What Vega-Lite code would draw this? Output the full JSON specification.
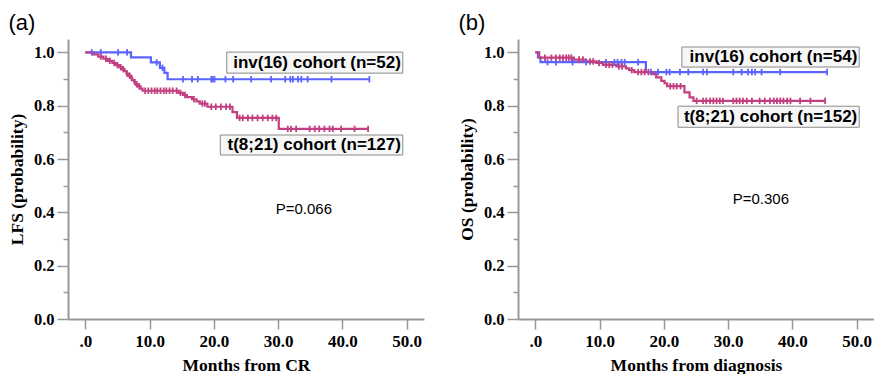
{
  "$schema": "https://vega.github.io/schema/vega-lite/v6.json",
  "padding": {"left": 8, "top": 12, "right": 0, "bottom": 0},
  "spacing": 34,
  "datasets": {
    "curves": [
      {"panel":"a","group":"inv(16)","t":0,"s":1},{"panel":"a","group":"inv(16)","t":7.1,"s":0.981},{"panel":"a","group":"inv(16)","t":10.2,"s":0.962},{"panel":"a","group":"inv(16)","t":11.6,"s":0.942},{"panel":"a","group":"inv(16)","t":12.3,"s":0.923},{"panel":"a","group":"inv(16)","t":12.8,"s":0.899},{"panel":"a","group":"inv(16)","t":44.2,"s":0.899},
      {"panel":"a","group":"t(8;21)","t":0,"s":1},{"panel":"a","group":"t(8;21)","t":1.2,"s":0.992},{"panel":"a","group":"t(8;21)","t":2.0,"s":0.984},{"panel":"a","group":"t(8;21)","t":2.8,"s":0.976},{"panel":"a","group":"t(8;21)","t":3.5,"s":0.968},{"panel":"a","group":"t(8;21)","t":4.2,"s":0.96},{"panel":"a","group":"t(8;21)","t":4.8,"s":0.952},{"panel":"a","group":"t(8;21)","t":5.3,"s":0.944},{"panel":"a","group":"t(8;21)","t":5.7,"s":0.937},{"panel":"a","group":"t(8;21)","t":6.1,"s":0.929},{"panel":"a","group":"t(8;21)","t":6.4,"s":0.92},{"panel":"a","group":"t(8;21)","t":6.7,"s":0.912},{"panel":"a","group":"t(8;21)","t":7.0,"s":0.904},{"panel":"a","group":"t(8;21)","t":7.3,"s":0.896},{"panel":"a","group":"t(8;21)","t":7.6,"s":0.888},{"panel":"a","group":"t(8;21)","t":7.9,"s":0.88},{"panel":"a","group":"t(8;21)","t":8.2,"s":0.872},{"panel":"a","group":"t(8;21)","t":8.6,"s":0.864},{"panel":"a","group":"t(8;21)","t":8.9,"s":0.856},{"panel":"a","group":"t(8;21)","t":14.5,"s":0.848},{"panel":"a","group":"t(8;21)","t":15.2,"s":0.84},{"panel":"a","group":"t(8;21)","t":15.8,"s":0.832},{"panel":"a","group":"t(8;21)","t":16.6,"s":0.824},{"panel":"a","group":"t(8;21)","t":17.3,"s":0.816},{"panel":"a","group":"t(8;21)","t":17.8,"s":0.808},{"panel":"a","group":"t(8;21)","t":19.0,"s":0.796},{"panel":"a","group":"t(8;21)","t":22.9,"s":0.776},{"panel":"a","group":"t(8;21)","t":23.6,"s":0.754},{"panel":"a","group":"t(8;21)","t":30.1,"s":0.713},{"panel":"a","group":"t(8;21)","t":44.1,"s":0.713},
      {"panel":"b","group":"inv(16)","t":0,"s":1},{"panel":"b","group":"inv(16)","t":0.4,"s":0.981},{"panel":"b","group":"inv(16)","t":0.8,"s":0.963},{"panel":"b","group":"inv(16)","t":17.2,"s":0.926},{"panel":"b","group":"inv(16)","t":45.4,"s":0.926},
      {"panel":"b","group":"t(8;21)","t":0,"s":1},{"panel":"b","group":"t(8;21)","t":0.6,"s":0.98},{"panel":"b","group":"t(8;21)","t":6.0,"s":0.973},{"panel":"b","group":"t(8;21)","t":7.9,"s":0.966},{"panel":"b","group":"t(8;21)","t":9.5,"s":0.96},{"panel":"b","group":"t(8;21)","t":10.5,"s":0.953},{"panel":"b","group":"t(8;21)","t":12.6,"s":0.947},{"panel":"b","group":"t(8;21)","t":14.1,"s":0.94},{"panel":"b","group":"t(8;21)","t":14.6,"s":0.933},{"panel":"b","group":"t(8;21)","t":15.4,"s":0.926},{"panel":"b","group":"t(8;21)","t":18.3,"s":0.918},{"panel":"b","group":"t(8;21)","t":18.8,"s":0.906},{"panel":"b","group":"t(8;21)","t":19.6,"s":0.893},{"panel":"b","group":"t(8;21)","t":20.1,"s":0.884},{"panel":"b","group":"t(8;21)","t":20.5,"s":0.873},{"panel":"b","group":"t(8;21)","t":23.2,"s":0.85},{"panel":"b","group":"t(8;21)","t":24.0,"s":0.831},{"panel":"b","group":"t(8;21)","t":24.6,"s":0.818},{"panel":"b","group":"t(8;21)","t":45.1,"s":0.818}
    ],
    "censor": [
      {"panel":"a","group":"inv(16)","t":1.0,"s":1},{"panel":"a","group":"inv(16)","t":2.4,"s":1},{"panel":"a","group":"inv(16)","t":5.1,"s":1},{"panel":"a","group":"inv(16)","t":6.5,"s":1},{"panel":"a","group":"inv(16)","t":11.1,"s":0.962},{"panel":"a","group":"inv(16)","t":12.0,"s":0.942},
      {"panel":"a","group":"inv(16)","t":15.2,"s":0.899},{"panel":"a","group":"inv(16)","t":16.6,"s":0.899},{"panel":"a","group":"inv(16)","t":17.5,"s":0.899},{"panel":"a","group":"inv(16)","t":19.6,"s":0.899},{"panel":"a","group":"inv(16)","t":19.8,"s":0.899},{"panel":"a","group":"inv(16)","t":20.1,"s":0.899},{"panel":"a","group":"inv(16)","t":21.8,"s":0.899},{"panel":"a","group":"inv(16)","t":23.0,"s":0.899},{"panel":"a","group":"inv(16)","t":25.8,"s":0.899},{"panel":"a","group":"inv(16)","t":28.9,"s":0.899},{"panel":"a","group":"inv(16)","t":31.1,"s":0.899},{"panel":"a","group":"inv(16)","t":31.9,"s":0.899},{"panel":"a","group":"inv(16)","t":32.3,"s":0.899},{"panel":"a","group":"inv(16)","t":33.1,"s":0.899},{"panel":"a","group":"inv(16)","t":33.6,"s":0.899},{"panel":"a","group":"inv(16)","t":34.6,"s":0.899},{"panel":"a","group":"inv(16)","t":38.3,"s":0.899},{"panel":"a","group":"inv(16)","t":44.2,"s":0.899},
      {"panel":"a","group":"t(8;21)","t":2.4,"s":0.984},{"panel":"a","group":"t(8;21)","t":3.2,"s":0.976},{"panel":"a","group":"t(8;21)","t":3.8,"s":0.968},{"panel":"a","group":"t(8;21)","t":4.5,"s":0.96},{"panel":"a","group":"t(8;21)","t":5.0,"s":0.952},{"panel":"a","group":"t(8;21)","t":5.5,"s":0.944},{"panel":"a","group":"t(8;21)","t":5.9,"s":0.937},{"panel":"a","group":"t(8;21)","t":6.5,"s":0.92},{"panel":"a","group":"t(8;21)","t":6.9,"s":0.912},{"panel":"a","group":"t(8;21)","t":7.2,"s":0.904},{"panel":"a","group":"t(8;21)","t":7.7,"s":0.888},{"panel":"a","group":"t(8;21)","t":8.0,"s":0.88},{"panel":"a","group":"t(8;21)","t":8.4,"s":0.872},
      {"panel":"a","group":"t(8;21)","t":9.3,"s":0.856},{"panel":"a","group":"t(8;21)","t":9.8,"s":0.856},{"panel":"a","group":"t(8;21)","t":10.3,"s":0.856},{"panel":"a","group":"t(8;21)","t":10.8,"s":0.856},{"panel":"a","group":"t(8;21)","t":11.2,"s":0.856},{"panel":"a","group":"t(8;21)","t":11.7,"s":0.856},{"panel":"a","group":"t(8;21)","t":12.2,"s":0.856},{"panel":"a","group":"t(8;21)","t":12.6,"s":0.856},{"panel":"a","group":"t(8;21)","t":13.1,"s":0.856},{"panel":"a","group":"t(8;21)","t":13.6,"s":0.856},{"panel":"a","group":"t(8;21)","t":14.2,"s":0.856},{"panel":"a","group":"t(8;21)","t":14.8,"s":0.848},{"panel":"a","group":"t(8;21)","t":15.5,"s":0.84},{"panel":"a","group":"t(8;21)","t":16.9,"s":0.824},{"panel":"a","group":"t(8;21)","t":18.2,"s":0.808},{"panel":"a","group":"t(8;21)","t":18.6,"s":0.808},
      {"panel":"a","group":"t(8;21)","t":19.6,"s":0.796},{"panel":"a","group":"t(8;21)","t":20.3,"s":0.796},{"panel":"a","group":"t(8;21)","t":21.1,"s":0.796},{"panel":"a","group":"t(8;21)","t":21.9,"s":0.796},{"panel":"a","group":"t(8;21)","t":22.5,"s":0.796},
      {"panel":"a","group":"t(8;21)","t":24.0,"s":0.754},{"panel":"a","group":"t(8;21)","t":24.5,"s":0.754},{"panel":"a","group":"t(8;21)","t":25.3,"s":0.754},{"panel":"a","group":"t(8;21)","t":26.0,"s":0.754},{"panel":"a","group":"t(8;21)","t":26.8,"s":0.754},{"panel":"a","group":"t(8;21)","t":27.6,"s":0.754},{"panel":"a","group":"t(8;21)","t":28.4,"s":0.754},{"panel":"a","group":"t(8;21)","t":29.1,"s":0.754},{"panel":"a","group":"t(8;21)","t":29.7,"s":0.754},
      {"panel":"a","group":"t(8;21)","t":31.5,"s":0.713},{"panel":"a","group":"t(8;21)","t":32.0,"s":0.713},{"panel":"a","group":"t(8;21)","t":32.8,"s":0.713},{"panel":"a","group":"t(8;21)","t":34.9,"s":0.713},{"panel":"a","group":"t(8;21)","t":35.7,"s":0.713},{"panel":"a","group":"t(8;21)","t":36.4,"s":0.713},{"panel":"a","group":"t(8;21)","t":37.2,"s":0.713},{"panel":"a","group":"t(8;21)","t":38.0,"s":0.713},{"panel":"a","group":"t(8;21)","t":38.5,"s":0.713},{"panel":"a","group":"t(8;21)","t":39.8,"s":0.713},{"panel":"a","group":"t(8;21)","t":41.9,"s":0.713},{"panel":"a","group":"t(8;21)","t":44.0,"s":0.713},
      {"panel":"b","group":"inv(16)","t":1.9,"s":0.963},{"panel":"b","group":"inv(16)","t":3.2,"s":0.963},{"panel":"b","group":"inv(16)","t":5.8,"s":0.963},{"panel":"b","group":"inv(16)","t":7.9,"s":0.963},{"panel":"b","group":"inv(16)","t":11.0,"s":0.963},{"panel":"b","group":"inv(16)","t":12.3,"s":0.963},{"panel":"b","group":"inv(16)","t":12.8,"s":0.963},{"panel":"b","group":"inv(16)","t":13.4,"s":0.963},{"panel":"b","group":"inv(16)","t":13.9,"s":0.963},{"panel":"b","group":"inv(16)","t":16.0,"s":0.963},
      {"panel":"b","group":"inv(16)","t":18.0,"s":0.926},{"panel":"b","group":"inv(16)","t":19.1,"s":0.926},{"panel":"b","group":"inv(16)","t":20.4,"s":0.926},{"panel":"b","group":"inv(16)","t":20.9,"s":0.926},{"panel":"b","group":"inv(16)","t":22.5,"s":0.926},{"panel":"b","group":"inv(16)","t":23.8,"s":0.926},{"panel":"b","group":"inv(16)","t":26.1,"s":0.926},{"panel":"b","group":"inv(16)","t":26.7,"s":0.926},{"panel":"b","group":"inv(16)","t":30.8,"s":0.926},{"panel":"b","group":"inv(16)","t":32.1,"s":0.926},{"panel":"b","group":"inv(16)","t":33.1,"s":0.926},{"panel":"b","group":"inv(16)","t":33.7,"s":0.926},{"panel":"b","group":"inv(16)","t":34.2,"s":0.926},{"panel":"b","group":"inv(16)","t":35.2,"s":0.926},{"panel":"b","group":"inv(16)","t":38.1,"s":0.926},{"panel":"b","group":"inv(16)","t":45.4,"s":0.926},
      {"panel":"b","group":"t(8;21)","t":1.5,"s":0.98},{"panel":"b","group":"t(8;21)","t":2.5,"s":0.98},{"panel":"b","group":"t(8;21)","t":3.2,"s":0.98},{"panel":"b","group":"t(8;21)","t":3.8,"s":0.98},{"panel":"b","group":"t(8;21)","t":4.3,"s":0.98},{"panel":"b","group":"t(8;21)","t":4.8,"s":0.98},{"panel":"b","group":"t(8;21)","t":5.2,"s":0.98},{"panel":"b","group":"t(8;21)","t":5.6,"s":0.98},{"panel":"b","group":"t(8;21)","t":6.8,"s":0.973},{"panel":"b","group":"t(8;21)","t":7.4,"s":0.973},{"panel":"b","group":"t(8;21)","t":8.5,"s":0.966},{"panel":"b","group":"t(8;21)","t":9.0,"s":0.966},{"panel":"b","group":"t(8;21)","t":9.9,"s":0.96},{"panel":"b","group":"t(8;21)","t":11.0,"s":0.953},{"panel":"b","group":"t(8;21)","t":11.5,"s":0.953},{"panel":"b","group":"t(8;21)","t":12.0,"s":0.953},{"panel":"b","group":"t(8;21)","t":13.0,"s":0.947},{"panel":"b","group":"t(8;21)","t":13.5,"s":0.947},{"panel":"b","group":"t(8;21)","t":15.0,"s":0.933},{"panel":"b","group":"t(8;21)","t":16.0,"s":0.926},{"panel":"b","group":"t(8;21)","t":16.5,"s":0.926},{"panel":"b","group":"t(8;21)","t":17.0,"s":0.926},{"panel":"b","group":"t(8;21)","t":17.6,"s":0.926},
      {"panel":"b","group":"t(8;21)","t":21.0,"s":0.873},{"panel":"b","group":"t(8;21)","t":21.5,"s":0.873},{"panel":"b","group":"t(8;21)","t":22.0,"s":0.873},{"panel":"b","group":"t(8;21)","t":22.6,"s":0.873},
      {"panel":"b","group":"t(8;21)","t":25.1,"s":0.818},{"panel":"b","group":"t(8;21)","t":26.1,"s":0.818},{"panel":"b","group":"t(8;21)","t":26.6,"s":0.818},{"panel":"b","group":"t(8;21)","t":27.2,"s":0.818},{"panel":"b","group":"t(8;21)","t":27.7,"s":0.818},{"panel":"b","group":"t(8;21)","t":28.2,"s":0.818},{"panel":"b","group":"t(8;21)","t":28.7,"s":0.818},{"panel":"b","group":"t(8;21)","t":29.2,"s":0.818},{"panel":"b","group":"t(8;21)","t":30.8,"s":0.818},{"panel":"b","group":"t(8;21)","t":31.3,"s":0.818},{"panel":"b","group":"t(8;21)","t":31.8,"s":0.818},{"panel":"b","group":"t(8;21)","t":32.3,"s":0.818},{"panel":"b","group":"t(8;21)","t":32.9,"s":0.818},{"panel":"b","group":"t(8;21)","t":33.7,"s":0.818},{"panel":"b","group":"t(8;21)","t":34.9,"s":0.818},{"panel":"b","group":"t(8;21)","t":35.7,"s":0.818},{"panel":"b","group":"t(8;21)","t":36.5,"s":0.818},{"panel":"b","group":"t(8;21)","t":37.1,"s":0.818},{"panel":"b","group":"t(8;21)","t":37.6,"s":0.818},{"panel":"b","group":"t(8;21)","t":38.1,"s":0.818},{"panel":"b","group":"t(8;21)","t":38.6,"s":0.818},{"panel":"b","group":"t(8;21)","t":39.2,"s":0.818},{"panel":"b","group":"t(8;21)","t":39.7,"s":0.818},{"panel":"b","group":"t(8;21)","t":41.2,"s":0.818},{"panel":"b","group":"t(8;21)","t":42.8,"s":0.818},{"panel":"b","group":"t(8;21)","t":45.1,"s":0.818}
    ],
    "boxes": [
      {"panel":"a","t":22.0,"t2":49.4,"s":1.001,"s2":0.922},
      {"panel":"a","t":21.0,"t2":49.4,"s":0.69,"s2":0.615},
      {"panel":"b","t":22.8,"t2":50.4,"s":1.02,"s2":0.945},
      {"panel":"b","t":22.2,"t2":50.4,"s":0.798,"s2":0.719}
    ],
    "notes": [
      {"panel":"a","kind":"legend","t":49.1,"s":0.961,"text":"inv(16) cohort (n=52)"},
      {"panel":"a","kind":"legend","t":49.1,"s":0.652,"text":"t(8;21) cohort (n=127)"},
      {"panel":"a","kind":"p","t":34.0,"s":0.412,"text":"P=0.066"},
      {"panel":"b","kind":"legend","t":50.1,"s":0.982,"text":"inv(16) cohort (n=54)"},
      {"panel":"b","kind":"legend","t":50.1,"s":0.759,"text":"t(8;21) cohort (n=152)"},
      {"panel":"b","kind":"p","t":35.1,"s":0.45,"text":"P=0.306"}
    ]
  },
  "hconcat": [
    {
      "width": 356, "height": 280,
      "title": {"text": "(a)"},
      "encoding": {
        "x": {"field": "t", "type": "quantitative", "scale": {"domain": [-2.7, 52.7], "nice": false, "zero": false},
              "axis": {"title": "Months from CR", "values": [0,10,20,30,40,50], "labelExpr": "datum.value==0 ? '.0' : format(datum.value,'.1f')"}},
        "y": {"field": "s", "type": "quantitative", "scale": {"domain": [0, 1.05], "nice": false},
              "axis": {"title": "LFS (probability)", "values": [0,0.1,0.2,0.3,0.4,0.5,0.6,0.7,0.8,0.9,1.0], "labelExpr": "round(datum.value*10)%2==0 ? format(datum.value,'.1f') : ''", "tickSize": {"condition": {"test": "round(datum.value*10)%2==0", "value": 11}, "value": 5}}}
      },
      "layer": [
        {"data": {"name": "boxes"}, "transform": [{"filter": "datum.panel=='a'"}], "mark": {"type": "rect", "fill": "#f7f7f7", "stroke": "#8a8a8a", "strokeWidth": 1}, "encoding": {"x2": {"field": "t2"}, "y2": {"field": "s2"}}},
        {"data": {"name": "curves"}, "transform": [{"filter": "datum.panel=='a'"}], "mark": {"type": "line", "interpolate": "step-after", "strokeWidth": 2.2}, "encoding": {"color": {"field": "group", "type": "nominal", "scale": {"domain": ["inv(16)", "t(8;21)"], "range": ["#5a64ff", "#c2407f"]}, "legend": null}}},
        {"data": {"name": "censor"}, "transform": [{"filter": "datum.panel=='a'"}], "mark": {"type": "point", "shape": "M0,-1L0,1", "filled": false, "size": 42, "strokeWidth": 1.8, "opacity": 1}, "encoding": {"color": {"field": "group", "type": "nominal", "legend": null}}},
        {"data": {"name": "notes"}, "transform": [{"filter": "datum.panel=='a' && datum.kind=='legend'"}], "mark": {"type": "text", "align": "right", "baseline": "middle", "font": "Liberation Sans", "fontWeight": "bold", "fontSize": 17, "color": "#000"}, "encoding": {"text": {"field": "text"}}},
        {"data": {"name": "notes"}, "transform": [{"filter": "datum.panel=='a' && datum.kind=='p'"}], "mark": {"type": "text", "align": "center", "baseline": "middle", "font": "Liberation Sans", "fontSize": 15, "color": "#000"}, "encoding": {"text": {"field": "text"}}}
      ]
    },
    {
      "width": 356, "height": 280,
      "title": {"text": "(b)"},
      "encoding": {
        "x": {"field": "t", "type": "quantitative", "scale": {"domain": [-2.7, 52.7], "nice": false, "zero": false},
              "axis": {"title": "Months from diagnosis", "values": [0,10,20,30,40,50], "labelExpr": "datum.value==0 ? '.0' : format(datum.value,'.1f')"}},
        "y": {"field": "s", "type": "quantitative", "scale": {"domain": [0, 1.05], "nice": false},
              "axis": {"title": "OS (probability)", "values": [0,0.1,0.2,0.3,0.4,0.5,0.6,0.7,0.8,0.9,1.0], "labelExpr": "round(datum.value*10)%2==0 ? format(datum.value,'.1f') : ''", "tickSize": {"condition": {"test": "round(datum.value*10)%2==0", "value": 11}, "value": 5}}}
      },
      "layer": [
        {"data": {"name": "boxes"}, "transform": [{"filter": "datum.panel=='b'"}], "mark": {"type": "rect", "fill": "#f7f7f7", "stroke": "#8a8a8a", "strokeWidth": 1}, "encoding": {"x2": {"field": "t2"}, "y2": {"field": "s2"}}},
        {"data": {"name": "curves"}, "transform": [{"filter": "datum.panel=='b'"}], "mark": {"type": "line", "interpolate": "step-after", "strokeWidth": 2.2}, "encoding": {"color": {"field": "group", "type": "nominal", "scale": {"domain": ["inv(16)", "t(8;21)"], "range": ["#5a64ff", "#c2407f"]}, "legend": null}}},
        {"data": {"name": "censor"}, "transform": [{"filter": "datum.panel=='b'"}], "mark": {"type": "point", "shape": "M0,-1L0,1", "filled": false, "size": 42, "strokeWidth": 1.8, "opacity": 1}, "encoding": {"color": {"field": "group", "type": "nominal", "legend": null}}},
        {"data": {"name": "notes"}, "transform": [{"filter": "datum.panel=='b' && datum.kind=='legend'"}], "mark": {"type": "text", "align": "right", "baseline": "middle", "font": "Liberation Sans", "fontWeight": "bold", "fontSize": 17, "color": "#000"}, "encoding": {"text": {"field": "text"}}},
        {"data": {"name": "notes"}, "transform": [{"filter": "datum.panel=='b' && datum.kind=='p'"}], "mark": {"type": "text", "align": "center", "baseline": "middle", "font": "Liberation Sans", "fontSize": 15, "color": "#000"}, "encoding": {"text": {"field": "text"}}}
      ]
    }
  ],
  "config": {
    "view": {"stroke": null},
    "title": {"font": "Liberation Sans", "fontSize": 22, "fontWeight": "normal", "anchor": "start", "frame": "bounds", "offset": 4, "color": "#000"},
    "axis": {"grid": false, "domainColor": "#999", "domainWidth": 2, "tickColor": "#999", "tickWidth": 1.5,
             "labelFont": "Liberation Serif", "labelFontWeight": "bold", "labelFontSize": 16.5, "labelColor": "#000",
             "titleFont": "Liberation Serif", "titleFontWeight": "bold", "titleFontSize": 17.5, "titleColor": "#000"},
    "axisX": {"tickSize": 10, "labelPadding": 4, "titlePadding": 7, "labelFontSize": 17},
    "axisY": {"labelPadding": 3, "titlePadding": 7}
  }
}
